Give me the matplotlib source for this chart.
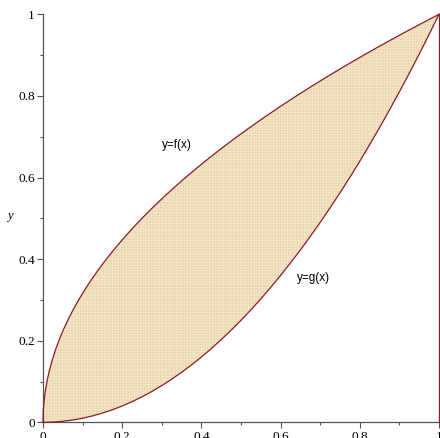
import matplotlib
matplotlib.use("Agg")
import matplotlib.pyplot as plt
from matplotlib.ticker import MultipleLocator

# sample points (t and t squared)
t_vals = [0.0, 0.0125, 0.025, 0.0375, 0.05, 0.075, 0.1, 0.125, 0.15, 0.175, 0.2,
          0.225, 0.25, 0.275, 0.3, 0.325, 0.35, 0.375, 0.4, 0.425, 0.45, 0.475, 0.5,
          0.525, 0.55, 0.575, 0.6, 0.625, 0.65, 0.675, 0.7, 0.725, 0.75, 0.775, 0.8,
          0.825, 0.85, 0.875, 0.9, 0.925, 0.95, 0.975, 1.0]
t_sq = [0.0, 0.00015625, 0.000625, 0.00140625, 0.0025, 0.005625, 0.01, 0.015625,
        0.0225, 0.030625, 0.04, 0.050625, 0.0625, 0.075625, 0.09, 0.105625, 0.1225,
        0.140625, 0.16, 0.180625, 0.2025, 0.225625, 0.25, 0.275625, 0.3025, 0.330625,
        0.36, 0.390625, 0.4225, 0.455625, 0.49, 0.525625, 0.5625, 0.600625, 0.64,
        0.680625, 0.7225, 0.765625, 0.81, 0.855625, 0.9025, 0.950625, 1.0]

# upper curve y=f(x): (t^2, t); lower curve y=g(x): (t, t^2)
f_x, f_y = t_sq, t_vals
g_x, g_y = t_vals, t_sq

labels = ["y=f(x)", "y=g(x)"]
label_pos = [(0.338, 0.68), (0.682, 0.354)]
x_ticks = [0, 0.2, 0.4, 0.6, 0.8, 1]
x_tick_labels = ["0", "0.2", "0.4", "0.6", "0.8", "1"]
y_ticks = [0, 0.2, 0.4, 0.6, 0.8, 1]
y_tick_labels = ["0", "0.2", "0.4", "0.6", "0.8", "1"]

curve_color = "#8c1a2a"
fill_color = "#ebd8ae"

plt.rcParams['hatch.linewidth'] = 0.35
fig = plt.figure(figsize=(4.4, 4.38), dpi=100)
ax = fig.add_axes([43/440, 15.7/438, 396/440, 408/438])

poly_x = list(f_x) + list(reversed(g_x))
poly_y = list(f_y) + list(reversed(g_y))
ax.fill(poly_x, poly_y, facecolor=fill_color, edgecolor="#f6ecd6", hatch="++++++",
        linewidth=0, zorder=1)

ax.plot(f_x, f_y, color=curve_color, lw=0.9, zorder=3, clip_on=False)
ax.plot(g_x, g_y, color=curve_color, lw=0.9, zorder=3, clip_on=False)
ax.plot([1, 1], [0, 1], color=curve_color, lw=0.9, zorder=3, clip_on=False)

ax.set_xlim(0, 1)
ax.set_ylim(0, 1)
for s in ["top", "right"]:
    ax.spines[s].set_visible(False)
for s in ["left", "bottom"]:
    ax.spines[s].set_color("#555555")
    ax.spines[s].set_linewidth(0.9)

ax.set_xticks(x_ticks)
ax.set_xticklabels(x_tick_labels)
ax.set_yticks(y_ticks)
ax.set_yticklabels(y_tick_labels)
ax.xaxis.set_minor_locator(MultipleLocator(0.1))
ax.yaxis.set_minor_locator(MultipleLocator(0.1))
ax.tick_params(which="major", length=4, width=0.8, color="#555555", direction="out",
               labelsize=9.5, pad=2)
ax.tick_params(which="minor", length=2, width=0.8, color="#555555", direction="out")
for lab in ax.get_xticklabels() + ax.get_yticklabels():
    lab.set_family("Liberation Serif")

ax.text(-0.085, 0.505, "y", style="italic", family="Liberation Serif", fontsize=9,
        ha="center", va="center", transform=ax.transData, clip_on=False)

for (lx, ly), txt in zip(label_pos, labels):
    ax.text(lx, ly, txt, family="Liberation Sans", fontsize=8.5, ha="center", va="center",
            zorder=4)

fig.savefig("out.png", dpi=100)
